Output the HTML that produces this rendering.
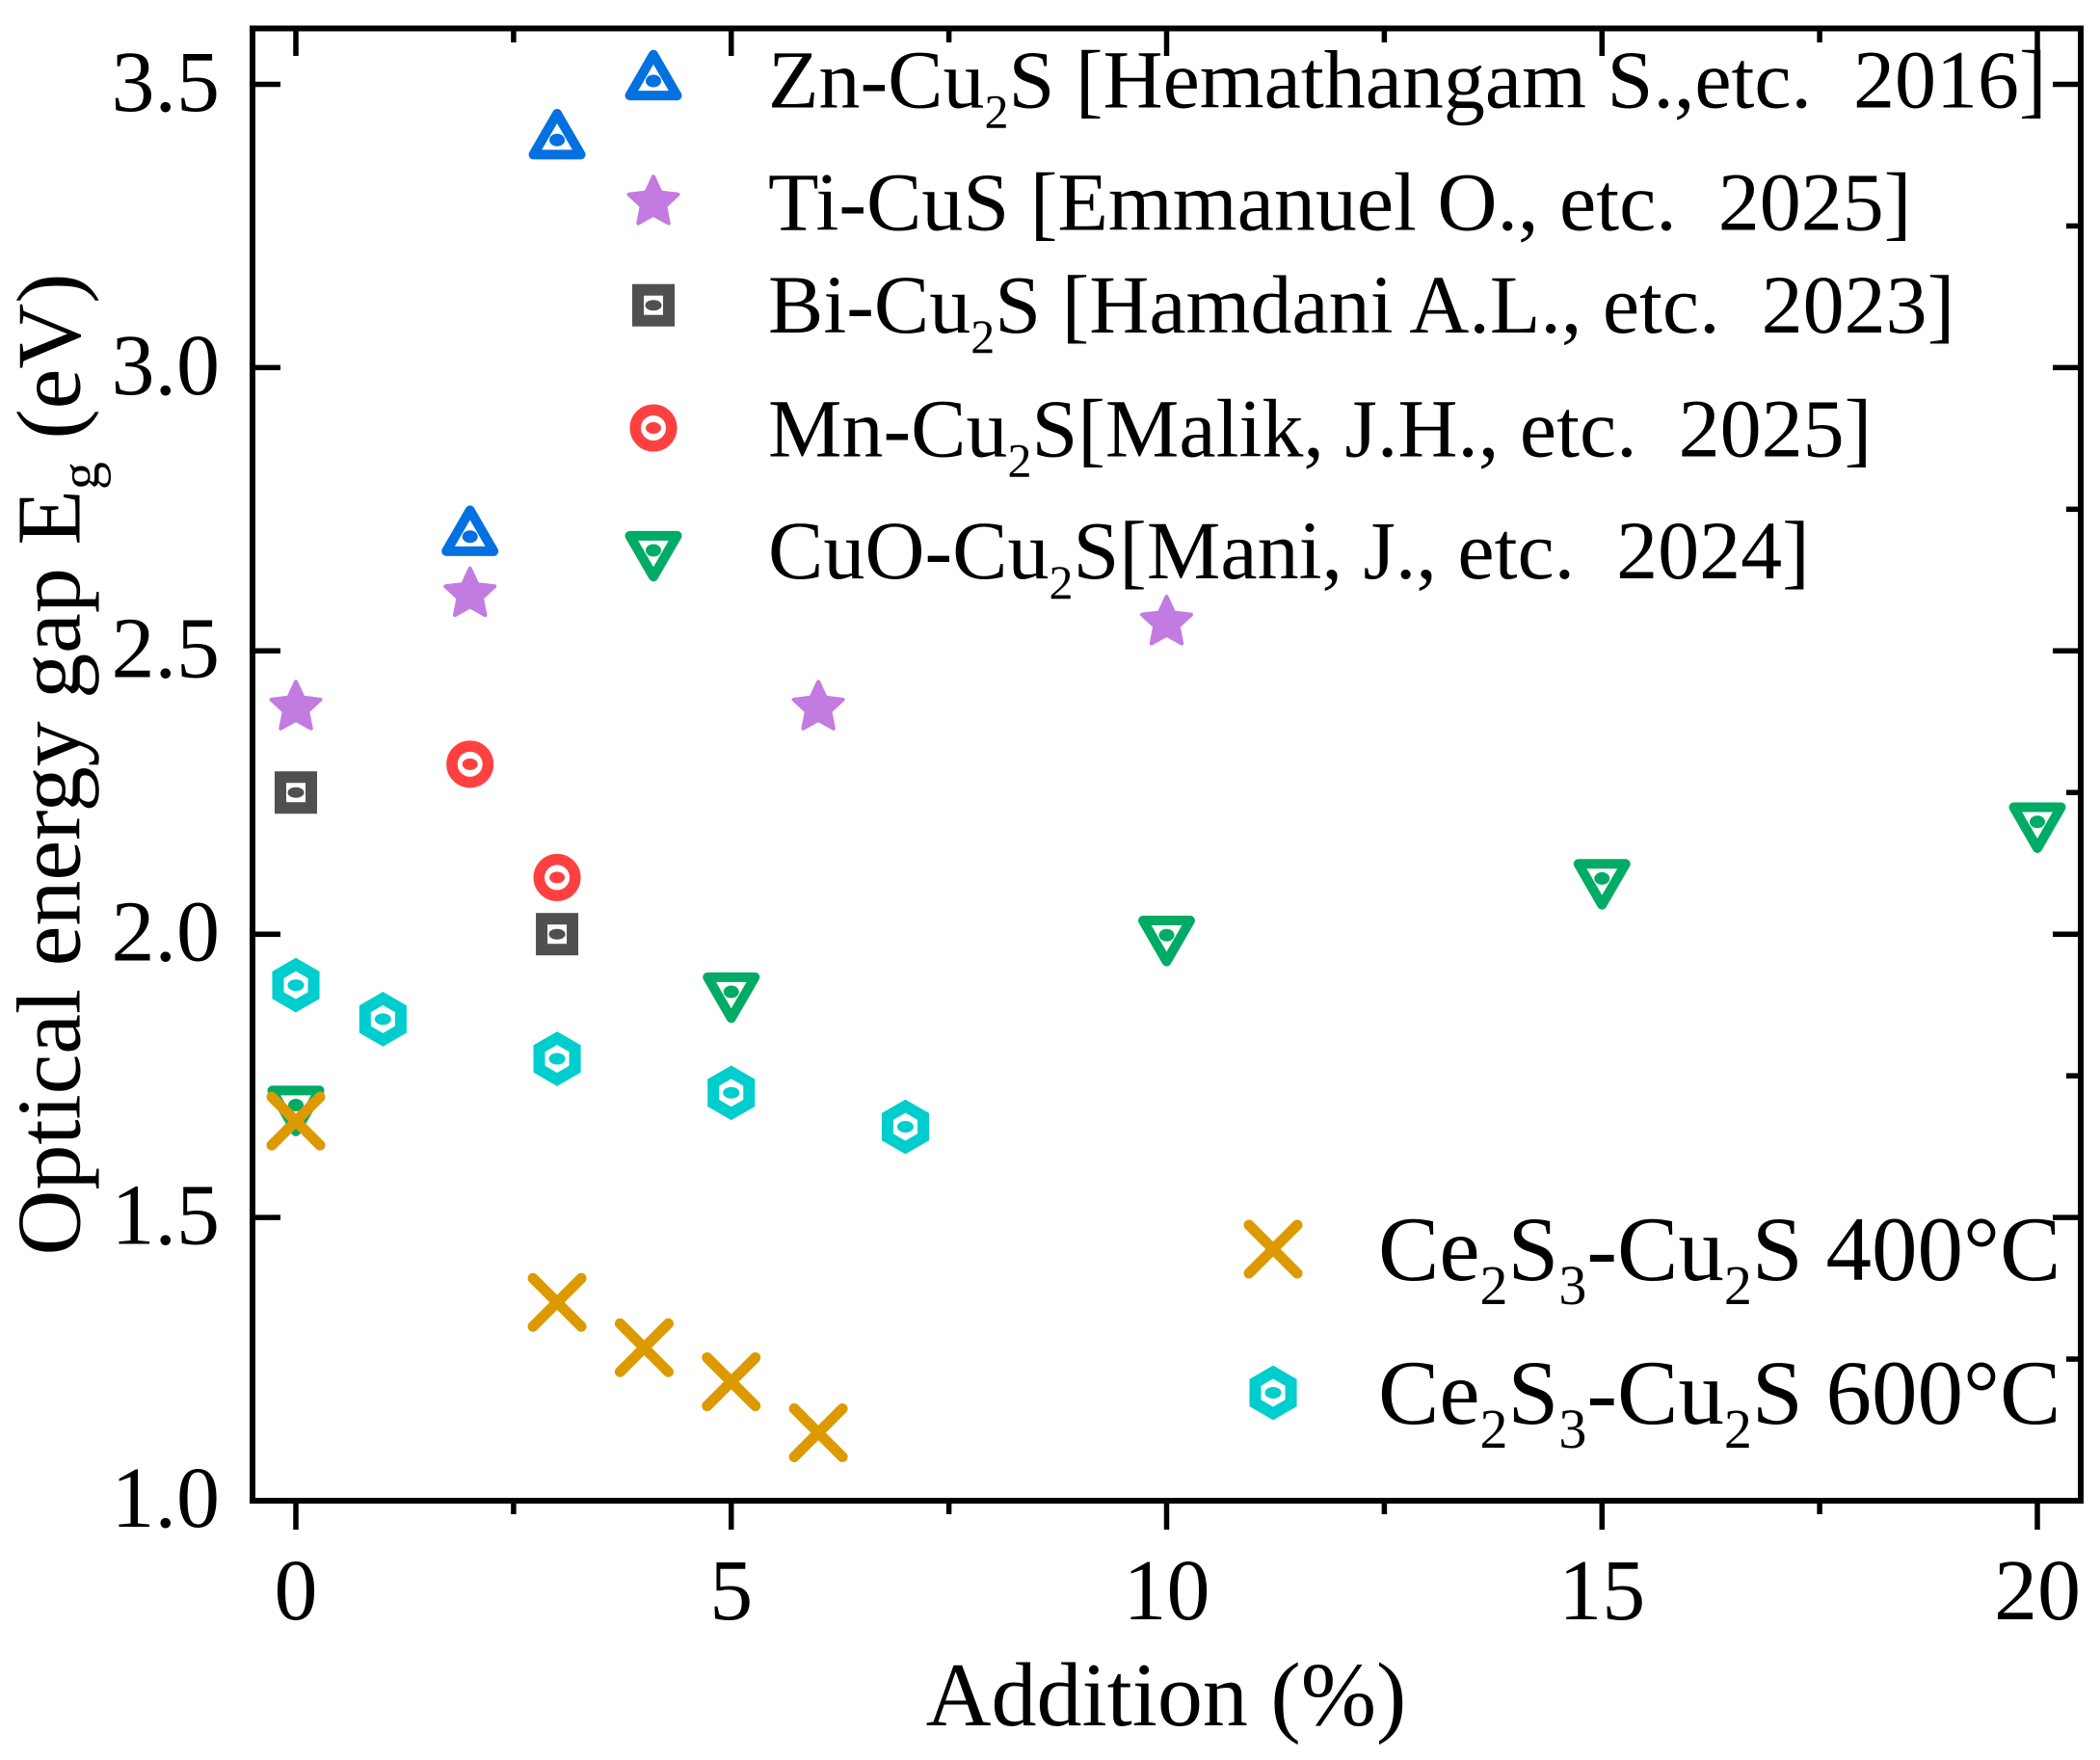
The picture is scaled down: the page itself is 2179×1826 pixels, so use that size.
<!DOCTYPE html>
<html>
<head>
<meta charset="utf-8">
<style>
  html, body { margin: 0; padding: 0; background: #ffffff; }
  svg { display: block; }
  text { font-family: "Liberation Serif", "Times New Roman", serif; fill: #000; }
</style>
</head>
<body>
<svg width="2179" height="1826" viewBox="0 0 2179 1826" xmlns="http://www.w3.org/2000/svg">
  <defs>
    <g id="triUp">
      <path d="M0,-28.3 L24.5,14.15 L-24.5,14.15 Z" fill="#fff" stroke="#0571E0" stroke-width="10" stroke-linejoin="round"/>
      <ellipse cx="0" cy="-1" rx="8" ry="6.5" fill="#0571E0"/>
    </g>
    <g id="triDown">
      <path d="M0,28.3 L24.5,-14.15 L-24.5,-14.15 Z" fill="#fff" stroke="#00AB66" stroke-width="10" stroke-linejoin="round"/>
      <ellipse cx="0" cy="1" rx="8" ry="6.5" fill="#00AB66"/>
    </g>
    <g id="star">
      <path d="M0,-26.8 L7.58,-10.44 L25.49,-8.28 L12.27,3.99 L15.75,21.68 L0,12.9 L-15.75,21.68 L-12.27,3.99 L-25.49,-8.28 L-7.58,-10.44 Z" fill="#C27BE0" stroke="#C27BE0" stroke-width="4" stroke-linejoin="round"/>
    </g>
    <g id="sq">
      <rect x="-16" y="-16" width="32" height="32" fill="#fff" stroke="#505050" stroke-width="12"/>
      <ellipse cx="0" cy="0" rx="8.5" ry="5.5" fill="#505050"/>
    </g>
    <g id="circ">
      <circle cx="0" cy="0" r="18.75" fill="#fff" stroke="#FF4040" stroke-width="11.5"/>
      <ellipse cx="0" cy="0" rx="8" ry="6" fill="#FF4040"/>
    </g>
    <g id="hex">
      <path d="M0,-21.4 L18.53,-10.7 L18.53,10.7 L0,21.4 L-18.53,10.7 L-18.53,-10.7 Z" fill="#fff" stroke="#00CDCD" stroke-width="12"/>
      <ellipse cx="0" cy="0" rx="8.5" ry="6" fill="#00CDCD"/>
    </g>
    <g id="xm">
      <path d="M-25,-25 L25,25 M-25,25 L25,-25" stroke="#DD9A00" stroke-width="11" stroke-linecap="round" fill="none"/>
    </g>
  </defs>

  <!-- axes frame -->
  <rect x="262" y="29.5" width="1897" height="1527.5" fill="none" stroke="#000" stroke-width="6"/>

  <g stroke="#000" stroke-width="5.5">
    <!-- bottom ticks (outward) -->
    <line x1="307" y1="1558" x2="307" y2="1587"/>
    <line x1="758.75" y1="1558" x2="758.75" y2="1587"/>
    <line x1="1210.5" y1="1558" x2="1210.5" y2="1587"/>
    <line x1="1662.25" y1="1558" x2="1662.25" y2="1587"/>
    <line x1="2114" y1="1558" x2="2114" y2="1587"/>
    <line x1="532.9" y1="1558" x2="532.9" y2="1571"/>
    <line x1="984.6" y1="1558" x2="984.6" y2="1571"/>
    <line x1="1436.4" y1="1558" x2="1436.4" y2="1571"/>
    <line x1="1888.1" y1="1558" x2="1888.1" y2="1571"/>
    <!-- top ticks (inward) -->
    <line x1="307" y1="30" x2="307" y2="58"/>
    <line x1="758.75" y1="30" x2="758.75" y2="58"/>
    <line x1="1210.5" y1="30" x2="1210.5" y2="58"/>
    <line x1="1662.25" y1="30" x2="1662.25" y2="58"/>
    <line x1="2114" y1="30" x2="2114" y2="58"/>
    <line x1="532.9" y1="30" x2="532.9" y2="44"/>
    <line x1="984.6" y1="30" x2="984.6" y2="44"/>
    <line x1="1436.4" y1="30" x2="1436.4" y2="44"/>
    <line x1="1888.1" y1="30" x2="1888.1" y2="44"/>
    <!-- left ticks (inward, major only) -->
    <line x1="263" y1="1263.1" x2="291" y2="1263.1"/>
    <line x1="263" y1="969.2" x2="291" y2="969.2"/>
    <line x1="263" y1="675.3" x2="291" y2="675.3"/>
    <line x1="263" y1="381.4" x2="291" y2="381.4"/>
    <line x1="263" y1="87.5" x2="291" y2="87.5"/>
    <!-- right ticks (inward) -->
    <line x1="2158" y1="1263.1" x2="2130" y2="1263.1"/>
    <line x1="2158" y1="969.2" x2="2130" y2="969.2"/>
    <line x1="2158" y1="675.3" x2="2130" y2="675.3"/>
    <line x1="2158" y1="381.4" x2="2130" y2="381.4"/>
    <line x1="2158" y1="87.5" x2="2130" y2="87.5"/>
    <line x1="2158" y1="1410.05" x2="2144" y2="1410.05"/>
    <line x1="2158" y1="1116.15" x2="2144" y2="1116.15"/>
    <line x1="2158" y1="822.25" x2="2144" y2="822.25"/>
    <line x1="2158" y1="528.35" x2="2144" y2="528.35"/>
    <line x1="2158" y1="234.45" x2="2144" y2="234.45"/>
  </g>

  <!-- y tick labels -->
  <g font-size="90" text-anchor="end">
    <text x="228" y="1584">1.0</text>
    <text x="228" y="1290.5">1.5</text>
    <text x="228" y="996.6">2.0</text>
    <text x="228" y="702.7">2.5</text>
    <text x="228" y="408.8">3.0</text>
    <text x="228" y="114.9">3.5</text>
  </g>
  <!-- x tick labels -->
  <g font-size="90" text-anchor="middle">
    <text x="307" y="1680">0</text>
    <text x="758.75" y="1680">5</text>
    <text x="1210.5" y="1680">10</text>
    <text x="1662.25" y="1680">15</text>
    <text x="2114" y="1680">20</text>
  </g>

  <!-- axis titles -->
  <text x="1210" y="1790" font-size="94" text-anchor="middle">Addition (%)</text>
  <text transform="translate(82.6,793) rotate(-90)" font-size="94" text-anchor="middle">Optical energy gap E<tspan font-size="58" dy="20">g</tspan><tspan dy="-20"> (eV)</tspan></text>

  <!-- data: Zn-Cu2S -->
  <use href="#triUp" x="578.05" y="146.28"/>
  <use href="#triUp" x="487.7" y="557.74"/>
  <!-- Ti-CuS -->
  <use href="#star" x="307" y="734.08"/>
  <use href="#star" x="487.7" y="616.52"/>
  <use href="#star" x="849.1" y="734.08"/>
  <use href="#star" x="1210.5" y="645.91"/>
  <!-- Bi-Cu2S -->
  <use href="#sq" x="307" y="822.25"/>
  <use href="#sq" x="578.05" y="969.2"/>
  <!-- Mn-Cu2S -->
  <use href="#circ" x="487.7" y="792.86"/>
  <use href="#circ" x="578.05" y="910.42"/>
  <!-- CuO-Cu2S -->
  <use href="#triDown" x="307" y="1145.54"/>
  <use href="#triDown" x="758.75" y="1027.98"/>
  <use href="#triDown" x="1210.5" y="969.2"/>
  <use href="#triDown" x="1662.25" y="910.42"/>
  <use href="#triDown" x="2114" y="851.64"/>
  <!-- Ce2S3-Cu2S 400 -->
  <use href="#xm" x="307" y="1163.17"/>
  <use href="#xm" x="578.05" y="1351.27"/>
  <use href="#xm" x="668.4" y="1398.29"/>
  <use href="#xm" x="758.75" y="1433.56"/>
  <use href="#xm" x="849.1" y="1486.46"/>
  <!-- Ce2S3-Cu2S 600 -->
  <use href="#hex" x="307" y="1022.1"/>
  <use href="#hex" x="397.35" y="1057.37"/>
  <use href="#hex" x="578.05" y="1098.52"/>
  <use href="#hex" x="758.75" y="1133.78"/>
  <use href="#hex" x="939.45" y="1169.05"/>

  <!-- top legend -->
  <use href="#triUp" x="678" y="85"/>
  <use href="#star" x="678" y="210"/>
  <use href="#sq" x="678" y="316.7"/>
  <use href="#circ" x="678" y="444"/>
  <use href="#triDown" x="678" y="570"/>
  <g font-size="86">
    <text x="797" y="111.7">Zn-Cu<tspan font-size="50" dy="21">2</tspan><tspan dy="-21">S [Hemathangam S.,etc.&#160; 2016]</tspan></text>
    <text x="797" y="238.3">Ti-CuS [Emmanuel O., etc.&#160; 2025]</text>
    <text x="797" y="345">Bi-Cu<tspan font-size="50" dy="21">2</tspan><tspan dy="-21">S [Hamdani A.L., etc.&#160; 2023]</tspan></text>
    <text x="797" y="473.3">Mn-Cu<tspan font-size="50" dy="21">2</tspan><tspan dy="-21">S[Malik, J.H., etc.&#160; 2025]</tspan></text>
    <text x="797" y="600">CuO-Cu<tspan font-size="50" dy="21">2</tspan><tspan dy="-21">S[Mani, J., etc.&#160; 2024]</tspan></text>
  </g>

  <!-- bottom legend -->
  <use href="#xm" x="1321" y="1296"/>
  <use href="#hex" x="1321" y="1445"/>
  <g font-size="95">
    <text x="1430" y="1328">Ce<tspan font-size="58" dy="25">2</tspan><tspan dy="-25">S</tspan><tspan font-size="58" dy="25">3</tspan><tspan dy="-25">-Cu</tspan><tspan font-size="58" dy="25">2</tspan><tspan dy="-25">S 400°C</tspan></text>
    <text x="1430" y="1477">Ce<tspan font-size="58" dy="25">2</tspan><tspan dy="-25">S</tspan><tspan font-size="58" dy="25">3</tspan><tspan dy="-25">-Cu</tspan><tspan font-size="58" dy="25">2</tspan><tspan dy="-25">S 600°C</tspan></text>
  </g>
</svg>
</body>
</html>
